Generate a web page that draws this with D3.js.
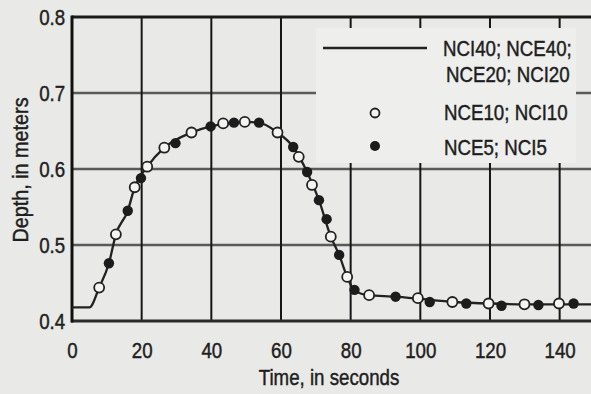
<!DOCTYPE html>
<html>
<head>
<meta charset="utf-8">
<script src="https://cdn.jsdelivr.net/npm/d3@7"></script>
<style>
  html, body { margin: 0; padding: 0; background: #e9e9e7; }
  svg { display: block; }
  text { font-family: "Liberation Sans", Arimo, sans-serif; fill: #1e1e1e; stroke: #1e1e1e; stroke-width: 0.45; }
</style>
</head>
<body>
<svg id="chart" width="591" height="394"></svg>
<script>
// time (s) and depth (m)
const openT = [7.8, 12.6, 18.0, 21.6, 26.5, 34.3, 43.4, 49.6, 59.0, 65.1, 68.9, 74.3, 79.0, 85.3, 99.3, 109.2, 119.6, 129.9, 139.8];
const openD = [0.444, 0.514, 0.576, 0.603, 0.628, 0.648, 0.660, 0.662, 0.648, 0.616, 0.579, 0.511, 0.458, 0.434, 0.430, 0.425, 0.423, 0.422, 0.423];
const fillT = [10.6, 16.0, 19.8, 29.7, 39.8, 46.5, 53.7, 63.5, 67.5, 70.9, 73.1, 76.7, 81.1, 92.9, 102.7, 113.2, 123.3, 133.9, 144.0];
const fillD = [0.476, 0.545, 0.588, 0.634, 0.656, 0.661, 0.661, 0.629, 0.596, 0.559, 0.534, 0.487, 0.441, 0.432, 0.425, 0.423, 0.420, 0.421, 0.423];
const lineT = [0, 5, 7.8, 10.6, 12.6, 16, 18, 21.6, 26.5, 34.3, 39.8, 46.5, 50, 53.7, 59, 63.5, 67.5, 70.9, 74.3, 76.7, 79, 81, 85, 93, 100, 110, 120, 130, 140, 149];
const lineD = [0.418, 0.418, 0.444, 0.476, 0.514, 0.545, 0.576, 0.603, 0.628, 0.648, 0.656, 0.661, 0.662, 0.661, 0.648, 0.629, 0.596, 0.559, 0.511, 0.487, 0.458, 0.441, 0.434, 0.432, 0.429, 0.425, 0.423, 0.422, 0.422, 0.422];
const xTicks = [0, 20, 40, 60, 80, 100, 120, 140];
const yTicks = [0.4, 0.5, 0.6, 0.7, 0.8];
const legendLabels = [["NCI40; NCE40;", "NCE20; NCI20"], ["NCE10; NCI10"], ["NCE5; NCI5"]];

const svg = d3.select("#chart");
const x = d3.scaleLinear().domain([0, 149]).range([72, 591]);
const y = d3.scaleLinear().domain([0.4, 0.8]).range([321, 17]);
const narrow = 0.85; // the printed type is condensed

// horizontal grid
svg.append("g").selectAll("line")
    .data(yTicks.filter(d => d > 0.4 && d < 0.8))
    .enter().append("line")
    .attr("x1", x(0)).attr("x2", 591)
    .attr("y1", d => y(d)).attr("y2", d => y(d))
    .attr("stroke", "#5a5a5a").attr("stroke-width", 2.5);

// vertical grid
svg.append("g").selectAll("line")
    .data(xTicks.filter(d => d > 0))
    .enter().append("line")
    .attr("x1", d => x(d)).attr("x2", d => x(d))
    .attr("y1", y(0.8)).attr("y2", y(0.4))
    .attr("stroke", "#161616").attr("stroke-width", 2);

// frame
svg.append("line").attr("x1", x(0)).attr("x2", 591).attr("y1", y(0.8)).attr("y2", y(0.8))
    .attr("stroke", "#1a1a1a").attr("stroke-width", 3);
svg.append("line").attr("x1", x(0) - 1).attr("x2", 591).attr("y1", y(0.4)).attr("y2", y(0.4))
    .attr("stroke", "#2a2a2a").attr("stroke-width", 3);
svg.append("line").attr("x1", x(0)).attr("x2", x(0)).attr("y1", y(0.8) - 1.5).attr("y2", y(0.4) + 1.5)
    .attr("stroke", "#111").attr("stroke-width", 3);

// legend box hides grid behind it
svg.append("rect").attr("x", 316).attr("y", 28).attr("width", 260).attr("height", 135)
    .attr("fill", "#eeeeec");

// axis tick labels
const xAxis = svg.append("g").attr("transform", "translate(0," + y(0.4) + ")")
    .call(d3.axisBottom(x).tickValues(xTicks).tickSize(0).tickPadding(21).tickFormat(d3.format("d")));
xAxis.select(".domain").remove();
xAxis.selectAll("text").attr("font-size", 22).attr("font-family", null)
    .attr("transform", "scale(" + narrow + ",1)");

const yAxis = svg.append("g").attr("transform", "translate(" + x(0) + ",0)")
    .call(d3.axisLeft(y).tickValues(yTicks).tickSize(0).tickPadding(8).tickFormat(d3.format(".1f")));
yAxis.select(".domain").remove();
yAxis.selectAll("text").attr("font-size", 22).attr("font-family", null)
    .attr("transform", "scale(" + narrow + ",1)");
d3.selectAll(".tick text").attr("fill", "#1e1e1e");

svg.append("text").attr("transform", "translate(329,385) scale(" + narrow + ",1)")
    .attr("text-anchor", "middle").attr("font-size", 22).text("Time, in seconds");
svg.append("text").attr("transform", "translate(28,170) rotate(-90) scale(0.9,1)")
    .attr("text-anchor", "middle").attr("font-size", 22).text("Depth, in meters");

// curve and markers
const line = d3.line().x(i => x(lineT[i])).y(i => y(lineD[i])).curve(d3.curveMonotoneX);
svg.append("path").attr("d", line(d3.range(lineT.length)))
    .attr("fill", "none").attr("stroke", "#222").attr("stroke-width", 2.3);

svg.append("g").selectAll("circle").data(d3.range(fillT.length)).enter().append("circle")
    .attr("cx", i => x(fillT[i])).attr("cy", i => y(fillD[i])).attr("r", 5.2)
    .attr("fill", "#1c1c1c");
svg.append("g").selectAll("circle").data(d3.range(openT.length)).enter().append("circle")
    .attr("cx", i => x(openT[i])).attr("cy", i => y(openD[i])).attr("r", 5)
    .attr("fill", "#f4f4f2").attr("stroke", "#222").attr("stroke-width", 1.8);

// legend
const leg = svg.append("g");
leg.append("line").attr("x1", 323).attr("x2", 427).attr("y1", 48).attr("y2", 48)
    .attr("stroke", "#222").attr("stroke-width", 2.5);
leg.append("circle").attr("cx", 375).attr("cy", 113).attr("r", 4.5)
    .attr("fill", "#f4f4f2").attr("stroke", "#222").attr("stroke-width", 1.8);
leg.append("circle").attr("cx", 375).attr("cy", 146).attr("r", 5).attr("fill", "#1c1c1c");
const legX = [[443, 446], [444], [444]];
const legY = [[56, 82], [120], [155]];
legendLabels.forEach((lines, i) => {
    lines.forEach((s, j) => {
        leg.append("text")
            .attr("transform", "translate(" + legX[i][j] + "," + legY[i][j] + ") scale(" + narrow + ",1)")
            .attr("font-size", 22).text(s);
    });
});
</script>
</body>
</html>
